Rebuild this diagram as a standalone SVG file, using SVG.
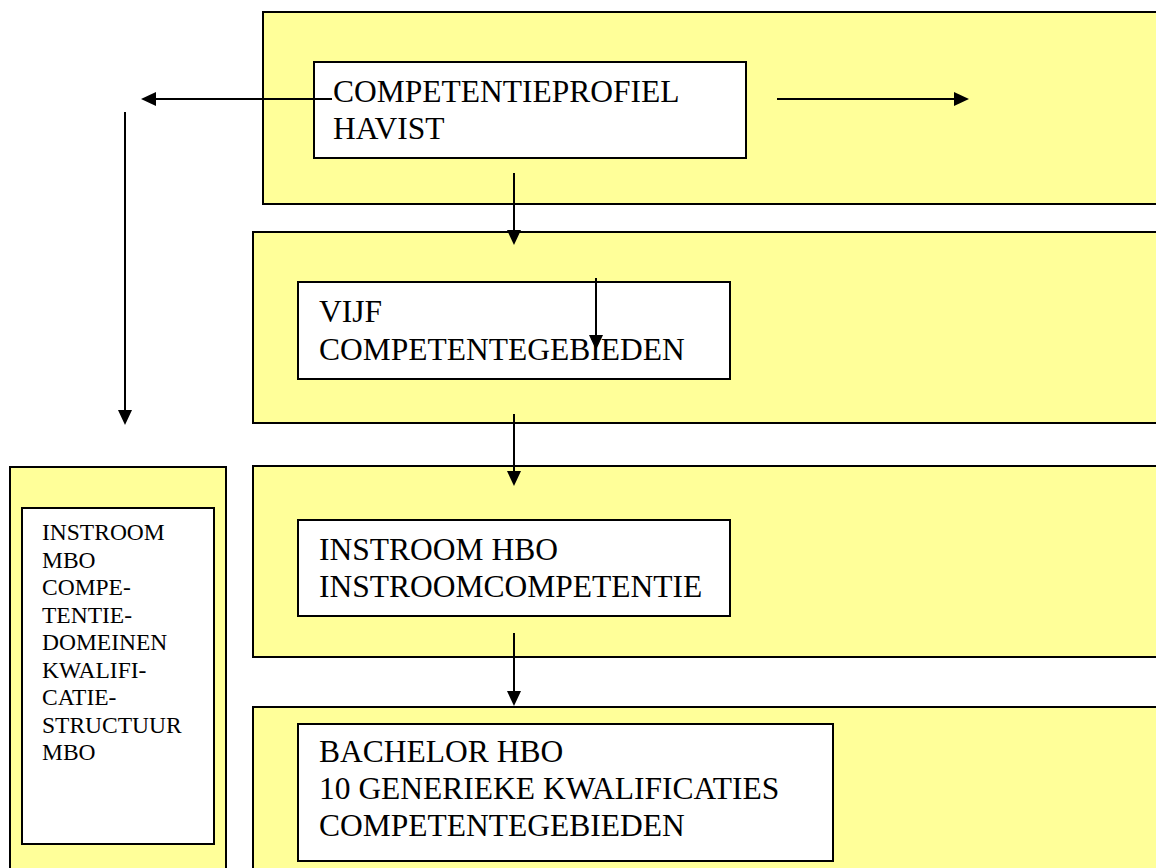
<svg xmlns="http://www.w3.org/2000/svg" width="1156" height="868" viewBox="0 0 1156 868">
  <style>
    .panel { fill: #FFFF99; stroke: #000; stroke-width: 2; }
    .box { fill: #FFFFFF; stroke: #000; stroke-width: 2; }
    .t { font-family: "Liberation Serif", "Times New Roman", serif; font-size: 31.5px; fill: #000; }
    .s { font-family: "Liberation Serif", "Times New Roman", serif; font-size: 23.5px; fill: #000; }
    .c { stroke: #000; stroke-width: 2; fill: none; marker-end: url(#ah); }
  </style>
  <defs>
    <marker id="ah" markerUnits="userSpaceOnUse" markerWidth="16" markerHeight="15" refX="1" refY="7" orient="auto" viewBox="0 0 16 15">
      <path d="M0,0 L15,7 L0,14 z" fill="#000"/>
    </marker>
  </defs>

  <g id="node-profiel">
    <rect class="panel" x="263" y="12" width="910" height="192"/>
    <rect class="box" x="314" y="62" width="432" height="96"/>
    <text class="t" x="333" y="102">COMPETENTIEPROFIEL</text>
    <text class="t" x="333" y="139">HAVIST</text>
  </g>

  <g id="node-vijf">
    <rect class="panel" x="253" y="232" width="920" height="191"/>
    <rect class="box" x="298" y="282" width="432" height="97"/>
    <text class="t" x="319" y="322">VIJF</text>
    <text class="t" x="319" y="360">COMPETENTEGEBIEDEN</text>
  </g>

  <g id="node-instroom-hbo">
    <rect class="panel" x="253" y="466" width="920" height="191"/>
    <rect class="box" x="298" y="520" width="432" height="96"/>
    <text class="t" x="319" y="560">INSTROOM HBO</text>
    <text class="t" x="319" y="597">INSTROOMCOMPETENTIE</text>
  </g>

  <g id="node-bachelor">
    <rect class="panel" x="253" y="707" width="920" height="180"/>
    <rect class="box" x="298" y="724" width="535" height="137"/>
    <text class="t" x="319" y="762">BACHELOR HBO</text>
    <text class="t" x="319" y="799">10 GENERIEKE KWALIFICATIES</text>
    <text class="t" x="319" y="836">COMPETENTEGEBIEDEN</text>
  </g>

  <g id="node-instroom-mbo">
    <rect class="panel" x="10" y="467" width="216" height="420"/>
    <rect class="box" x="22" y="508" width="192" height="336"/>
    <text class="s" x="42" y="540">INSTROOM</text>
    <text class="s" x="42" y="567.5">MBO</text>
    <text class="s" x="42" y="595">COMPE-</text>
    <text class="s" x="42" y="622.5">TENTIE-</text>
    <text class="s" x="42" y="650">DOMEINEN</text>
    <text class="s" x="42" y="677.5">KWALIFI-</text>
    <text class="s" x="42" y="705">CATIE-</text>
    <text class="s" x="42" y="732.5">STRUCTUUR</text>
    <text class="s" x="42" y="760">MBO</text>
  </g>

  <g id="connectors">
    <line class="c" x1="332" y1="99" x2="155" y2="99"/>
    <line class="c" x1="777" y1="99" x2="955" y2="99"/>
    <line class="c" x1="125" y1="112" x2="125" y2="411"/>
    <line class="c" x1="514" y1="173" x2="514" y2="231"/>
    <line class="c" x1="596" y1="278" x2="596" y2="336"/>
    <line class="c" x1="514" y1="414" x2="514" y2="472"/>
    <line class="c" x1="514" y1="633" x2="514" y2="692"/>
  </g>
</svg>
